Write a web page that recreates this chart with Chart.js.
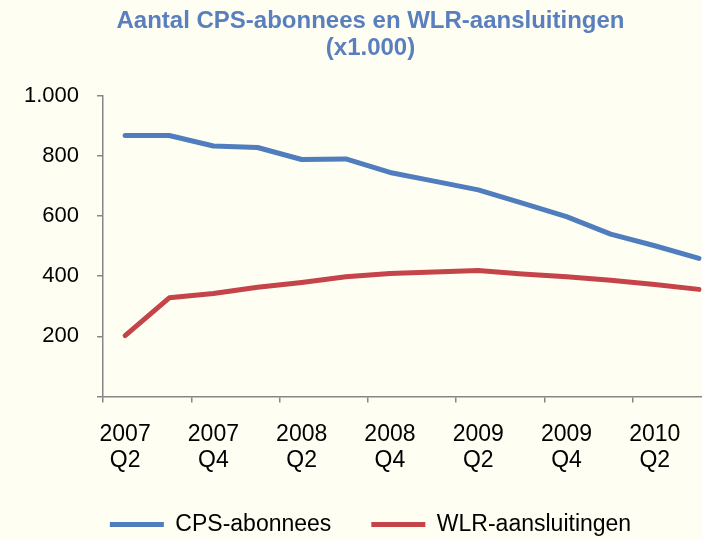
<!DOCTYPE html>
<html lang="nl">
  <head>
    <meta charset="UTF-8" />
    <title>Aantal CPS-abonnees en WLR-aansluitingen</title>
    <script src="https://cdn.jsdelivr.net/npm/chart.js"></script>
    <style>
      html,
      body {
        margin: 0;
        padding: 0;
        overflow: hidden;
        background: #fffef2;
      }
      .chart-box {
        width: 740px;
        height: 546px;
      }
    </style>
  </head>
  <body>
    <div class="chart-box">
      <canvas id="lineChart"></canvas>
    </div>
    <script>
      // kwartalen, 2007 Q2 t/m 2010 Q3
      const quarters = [
        ["2007", "Q2"], ["2007", "Q3"], ["2007", "Q4"],
        ["2008", "Q1"], ["2008", "Q2"], ["2008", "Q3"], ["2008", "Q4"],
        ["2009", "Q1"], ["2009", "Q2"], ["2009", "Q3"], ["2009", "Q4"],
        ["2010", "Q1"], ["2010", "Q2"], ["2010", "Q3"],
      ];
      // x1.000
      const cpsValues = [868, 868, 833, 828, 788, 790, 745, 716, 687, 643, 598, 540, 501, 459];
      const wlrValues = [202, 328, 342, 363, 379, 398, 409, 414, 419, 407, 398, 386, 372, 356];
      const yTicks = [0, 200, 400, 600, 800, 1000];

      const axisGray = "#868686";
      Chart.defaults.font.family = "'Liberation Sans', Arial, sans-serif";
      Chart.defaults.color = "#000";

      // 1000 -> "1.000"
      const fmt = (v) => String(v).replace(/\B(?=(\d{3})+(?!\d))/g, ".");

      const ctx = document.getElementById("lineChart").getContext("2d");
      const lineChart = new Chart(ctx, {
        type: "line",
        data: {
          labels: quarters,
          datasets: [
            {
              label: "CPS-abonnees",
              data: cpsValues,
              borderColor: "#4f7dbd",
              backgroundColor: "#4f7dbd",
              borderWidth: 5,
              pointRadius: 0,
              borderCapStyle: "round",
              borderJoinStyle: "round",
            },
            {
              label: "WLR-aansluitingen",
              data: wlrValues,
              borderColor: "#c4444a",
              backgroundColor: "#c4444a",
              borderWidth: 5,
              pointRadius: 0,
              borderCapStyle: "round",
              borderJoinStyle: "round",
            },
          ],
        },
        options: {
          responsive: true,
          maintainAspectRatio: false,
          animation: false,
          layout: {
            padding: { left: 20, right: 19, top: 0, bottom: 0 },
          },
          plugins: {
            title: {
              display: true,
              text: ["Aantal CPS-abonnees en WLR-aansluitingen", "(x1.000)"],
              color: "#5a7fbe",
              font: { size: 24, weight: "bold", lineHeight: 1.12 },
              padding: { top: 8, bottom: 34 },
            },
            legend: {
              position: "bottom",
              labels: {
                usePointStyle: true,
                pointStyle: "line",
                pointStyleWidth: 54,
                font: { size: 23 },
                color: "#000",
                padding: 40,
              },
            },
            tooltip: { enabled: false },
          },
          scales: {
            x: {
              offset: true,
              grid: {
                offset: true,
                drawOnChartArea: false,
                tickLength: 6,
                lineWidth: 1.5,
                // alleen elk tweede kwartaal een streepje
                tickColor: (c) => (c.index % 2 === 0 ? axisGray : "rgba(0,0,0,0)"),
              },
              border: { color: axisGray, width: 1.5 },
              ticks: {
                autoSkip: false,
                maxRotation: 0,
                padding: 20,
                font: { size: 23, lineHeight: 1.1 },
                callback: function (value, index) {
                  return index % 2 === 0 ? this.getLabelForValue(value) : "";
                },
              },
              // chart.js telt de padding dubbel mee in de hoogte
              afterFit: (scale) => {
                scale.height -= 20;
              },
            },
            y: {
              min: yTicks[0],
              max: yTicks[yTicks.length - 1],
              grid: {
                drawOnChartArea: false,
                tickLength: 6,
                lineWidth: 1.5,
                tickColor: axisGray,
              },
              border: { color: axisGray, width: 1.5 },
              afterBuildTicks: (scale) => {
                scale.ticks = yTicks.map((v) => ({ value: v }));
              },
              ticks: {
                padding: 18,
                font: { size: 22 },
                callback: (v) => (v === 0 ? "" : fmt(v)),
              },
              afterFit: (scale) => {
                scale.width -= 14;
              },
            },
          },
        },
      });
    </script>
  </body>
</html>
